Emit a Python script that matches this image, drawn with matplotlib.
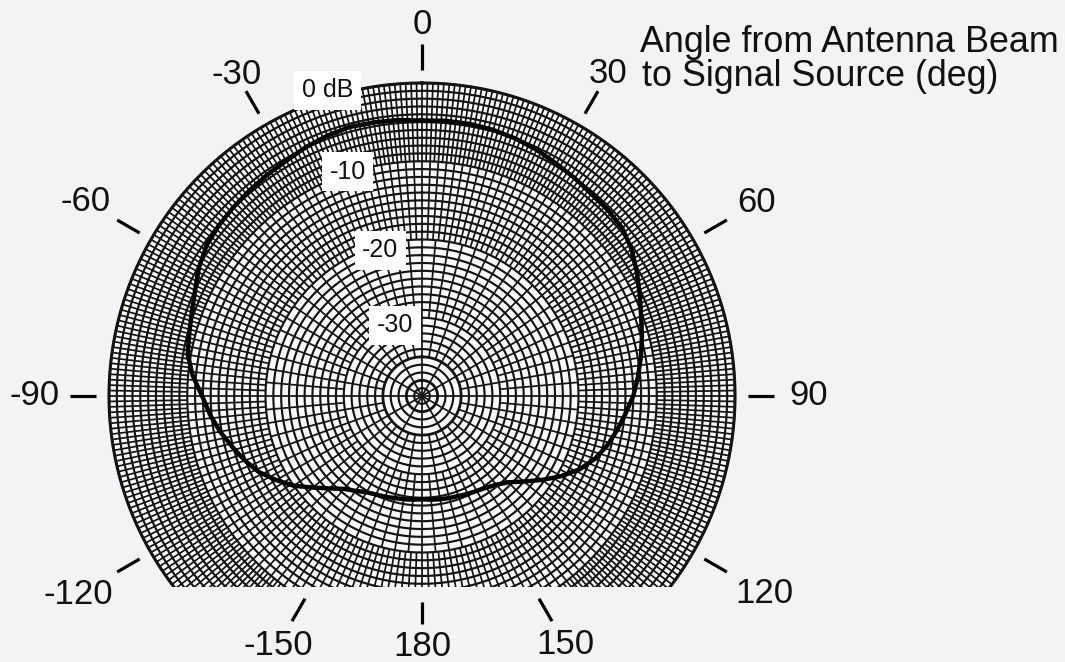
import matplotlib
matplotlib.use("Agg")
import matplotlib.pyplot as plt
import numpy as np
from matplotlib.patches import Rectangle

plt.rcParams['font.family'] = ['Liberation Sans', 'DejaVu Sans']

# pattern: angle from beam (deg, clockwise from top) -> relative level (dB)
angles_deg = [0, 5, 10, 15, 20, 25, 30, 35, 40, 45, 50, 55, 60, 65, 70, 75, 80, 85, 90,
              95, 100, 105, 110, 115, 120, 125, 130, 135, 140, 145, 150, 155, 160, 165,
              170, 175, 180, -175, -170, -165, -160, -155, -150, -145, -140, -135, -130,
              -125, -120, -115, -110, -105, -100, -95, -90, -85, -80, -75, -70, -65, -60,
              -55, -50, -45, -40, -35, -30, -25, -20, -15, -10, -5, 0]
gain_db = [-4.8, -4.7, -4.7, -4.8, -5.0, -5.3, -5.7, -6.0, -6.3, -6.4, -6.6, -7.3, -8.3,
           -9.3, -10.2, -10.9, -11.6, -12.3, -13.0, -13.9, -14.7, -15.5, -16.5, -17.8, -19.5,
           -21.3, -23.0, -24.4, -25.2, -25.7, -26.0, -26.2, -26.4, -26.5, -26.6, -26.7,
           -26.8, -26.7, -26.6, -26.5, -26.3, -26.1, -25.8, -25.2, -24.5, -23.3, -21.8,
           -20.0, -18.5, -17.0, -15.9, -14.9, -13.8, -12.8, -11.9, -10.6, -9.6, -9.2, -8.7,
           -8.0, -7.1, -6.4, -6.1, -5.9, -5.7, -5.5, -5.3, -4.9, -4.6, -4.4, -4.5, -4.6, -4.8]

tick_angles = [0, 30, 60, 90, 120, 150, 180, -150, -120, -90, -60, -30]
tick_labels = ['0', '30', '60', '90', '120', '150', '180', '-150', '-120', '-90', '-60', '-30']
ring_labels = ['0 dB', '-10', '-20', '-30']
ring_levels = [0, -10, -20, -30]

DB_MIN, DB_MAX = -40, 0
W, H = 1065, 662
R = 313            # px radius of the 0 dB ring
CX, CY = 422, 396  # px centre
CUT_Y = 587        # chart paper cut off here

def px_to_db(d):
    return d / R * (DB_MAX - DB_MIN) + DB_MIN

fig = plt.figure(figsize=(W / 100, H / 100), dpi=100, facecolor='#f3f3f5')
ax = fig.add_axes([(CX - R) / W, (H - CY - R) / H, 2 * R / W, 2 * R / H], projection='polar')
ax.set_theta_zero_location('N')
ax.set_theta_direction(-1)
ax.set_ylim(DB_MIN, DB_MAX)
ax.grid(False)
ax.set_xticks([])
ax.set_yticks([])
ax.spines['polar'].set_visible(False)
ax.patch.set_alpha(0)

cut = Rectangle((0, (H - CUT_Y) / H), 1, 1, transform=fig.transFigure)

ink = '#141414'
# paper background disc
full = np.linspace(0, 2 * np.pi, 1441)
bg = ax.fill_between(full, DB_MIN, DB_MAX, color='#fafafa', lw=0, zorder=0)
bg.set_clip_path(cut)

# rings every 1 dB
for lvl in range(DB_MIN + 1, DB_MAX + 1):
    lw = 2.0 if lvl in (-35, -38) else 1.55
    ln, = ax.plot(full, np.full_like(full, lvl), color=ink, lw=lw, zorder=1)
    ln.set_clip_path(cut)

# radial lines, denser further out
zones = [(-40, -35, 30), (-35, -30, 10), (-30, -20, 5), (-20, -10, 2), (-10, 0, 1)]
for r0, r1, step in zones:
    th = np.deg2rad(np.arange(0, 360, step))
    lc = ax.vlines(th, r0, r1, color=ink, lw=1.25, zorder=1)
    lc.set_clip_path(cut)

# outer rim
rim, = ax.plot(full, np.full_like(full, DB_MAX), color=ink, lw=2.2, zorder=2)
rim.set_clip_path(cut)

# measured pattern
curve, = ax.plot(np.deg2rad(angles_deg), gain_db, color='black', lw=3.2, zorder=3)
curve.set_clip_path(cut)

# angle ticks and labels outside the paper
label_dist = {0: 372, 30: 372, 60: 386, 90: 387, 120: 395, 150: 287, 180: 250,
              -150: 288, -120: 397, -90: 387, -60: 388, -30: 371}
for a, lab in zip(tick_angles, tick_labels):
    t = np.deg2rad(a)
    if abs(a) == 180:
        d0, d1 = 206, 228
    elif abs(a) == 150:
        d0, d1 = 234, 260
    else:
        d0, d1 = 326, 352
    ax.plot([t, t], [px_to_db(d0), px_to_db(d1)], color='black', lw=2.3,
            solid_capstyle='butt', clip_on=False, zorder=4)
    ax.text(t, px_to_db(label_dist[a]), lab, fontsize=25, ha='center', va='center',
            color='#111111', clip_on=False, zorder=4)

# dB ring labels on white patches
ring_label_theta = [-17.2, -18.3, -16.0, -20.8]
ring_label_offset = [0.9, 0.2, -0.6, -0.3]
for lab, lvl, th, off in zip(ring_labels, ring_levels, ring_label_theta, ring_label_offset):
    ax.text(np.deg2rad(th), lvl + off, lab, fontsize=18, ha='center', va='center',
            color='#111111', clip_on=False, zorder=5,
            bbox=dict(boxstyle='square,pad=0.3', fc='white', ec='none'))

fig.text(640 / W, 1 - 43 / H, 'Angle from Antenna Beam', fontsize=25.8,
         ha='left', va='center', color='#111111')
fig.text(642 / W, 1 - 77 / H, 'to Signal Source (deg)', fontsize=25.8,
         ha='left', va='center', color='#111111')

fig.savefig('out.png', dpi=100, facecolor=fig.get_facecolor())
